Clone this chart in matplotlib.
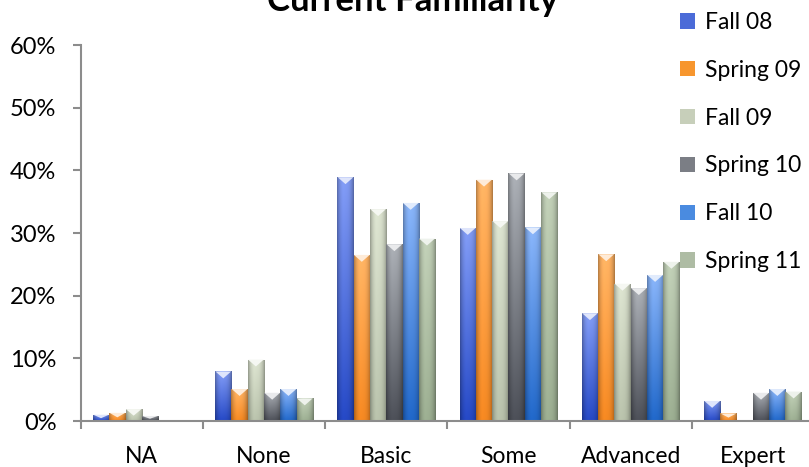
import numpy as np
import matplotlib
matplotlib.use("Agg")
import matplotlib.pyplot as plt
from matplotlib.patches import Polygon, Patch
from matplotlib.colors import to_rgb
from matplotlib.ticker import FuncFormatter, FixedLocator

plt.rcParams['font.family'] = ['Lato', 'DejaVu Sans']

# data (percent of respondents)
categories = ["NA", "None", "Basic", "Some", "Advanced", "Expert"]
terms = ["Fall 08", "Spring 09", "Fall 09", "Spring 10", "Fall 10", "Spring 11"]
fall08 = [1.0, 7.9, 38.9, 30.8, 17.2, 3.2]
spring09 = [1.3, 5.1, 26.5, 38.5, 26.6, 1.2]
fall09 = [1.9, 9.8, 33.8, 31.9, 21.9, 0.0]
spring10 = [0.8, 4.5, 28.2, 39.5, 21.2, 4.5]
fall10 = [0.0, 5.1, 34.8, 30.9, 23.3, 5.1]
spring11 = [0.0, 3.6, 29.1, 36.5, 25.4, 4.7]
series = [fall08, spring09, fall09, spring10, fall10, spring11]

# gradient colours (top, bottom) per series
tops = ["#7f98ee", "#fbb062", "#d6ddca", "#a7abb1", "#86b0f2", "#bccab2"]
bottoms = ["#2446bf", "#ee8420", "#b3bca6", "#4a4d55", "#1f64c3", "#97a98d"]
mains = ["#4b6bd8", "#f7962e", "#c7cfba", "#7b7e85", "#4a8be0", "#aebca4"]

fig = plt.figure(figsize=(8.09, 4.67), dpi=100)
ax = fig.add_axes([80.7 / 809, 1 - 421 / 467, (814 - 80.7) / 809, (421 - 45) / 467])

x = np.arange(len(categories))
width = 0.8 / len(terms)
ax.set_xlim(-0.5, len(categories) - 0.5)
ax.set_ylim(0, 60)

for i, vals in enumerate(series):
    bars = ax.bar(x + (i - 2.5) * width, vals, width, color="none",
                  edgecolor="none", zorder=2)
    top = np.array(to_rgb(tops[i]))
    bot = np.array(to_rgb(bottoms[i]))
    for p in bars:
        h = p.get_height()
        if h <= 0:
            continue
        x0, w = p.get_x(), p.get_width()
        t = np.linspace(1, 0, 100)[:, None, None]
        u = np.linspace(-1, 1, 20)[None, :, None]
        img = bot + (top - bot) * t
        shade = 1 - 0.28 * np.abs(u) ** 3 + 0.05 * (1 - np.abs(u + 0.3))
        img = np.clip(img * shade, 0, 1)
        im = ax.imshow(img, extent=[x0, x0 + w, 0, h], aspect="auto",
                       zorder=2, interpolation="bilinear")
        im.set_clip_path(p)
        d = min(1.1, h * 0.55)
        light = 0.25 * top + 0.75 * np.ones(3)
        ax.add_patch(Polygon([(x0 + 0.02 * w, h), (x0 + 0.98 * w, h), (x0 + w / 2, h - d)],
                             closed=True, facecolor=light, edgecolor="none", zorder=3))

ax.set_xlim(-0.5, len(categories) - 0.5)
ax.set_ylim(0, 60)

for s in ["top", "right"]:
    ax.spines[s].set_visible(False)
for s in ["left", "bottom"]:
    ax.spines[s].set_color("#8c8c8c")
    ax.spines[s].set_linewidth(1.5)

ax.set_yticks(np.arange(0, 61, 10))
ax.yaxis.set_major_formatter(FuncFormatter(lambda v, _: f"{v:.0f}%"))
ax.tick_params(axis="y", length=5.5, width=1.5, color="#8c8c8c", pad=12,
               labelsize=17)

ax.xaxis.set_major_locator(FixedLocator(np.arange(-0.5, len(categories), 1.0)))
ax.xaxis.set_minor_locator(FixedLocator(x))
ax.set_xticklabels([], minor=False)
ax.set_xticklabels(categories, minor=True)
ax.tick_params(axis="x", which="major", length=5.5, width=1.5, color="#8c8c8c")
ax.tick_params(axis="x", which="minor", length=0, pad=18, labelsize=16.5)

fig.text(413 / 809, 1 - 11 / 467, "Current Familiarity", ha="center", va="baseline",
         fontsize=25, fontweight="bold")

handles = [Patch(facecolor=mains[i], edgecolor="none") for i in range(len(terms))]
fig.legend(handles, terms, loc="upper left", bbox_to_anchor=(680 / 809, 1 - 12 / 467),
           frameon=False, fontsize=16.5, handlelength=0.65, handleheight=0.65,
           handletextpad=0.42, labelspacing=1.17, borderpad=0, borderaxespad=0)

fig.savefig("out.png", dpi=100)
